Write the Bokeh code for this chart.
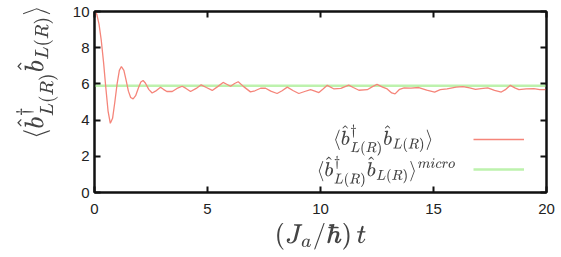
from bokeh.plotting import figure
from bokeh.models import (LinearAxis, Range1d, FixedTicker, Label, Legend, LegendItem,
                          TeX, CustomJSTickFormatter)
from bokeh.core.properties import value
from bokeh.embed import file_html
from bokeh.resources import INLINE

# --- data ---
t_vals = [0.0, 0.1, 0.2, 0.3, 0.4, 0.5, 0.6, 0.7, 0.8, 0.9, 1.0, 1.1, 1.19, 1.3, 1.4, 1.5,
          1.6, 1.71, 1.82, 1.95, 2.05, 2.15, 2.25, 2.4, 2.55, 2.7, 2.92, 3.05, 3.2, 3.44,
          3.65, 3.88, 4.05, 4.25, 4.5, 4.72, 4.95, 5.21, 5.45, 5.69, 5.85, 6.02, 6.2, 6.36,
          6.6, 6.9, 7.1, 7.35, 7.57, 7.8, 8.08, 8.3, 8.53, 8.8, 9.04, 9.3, 9.56, 9.75, 9.93,
          10.1, 10.3, 10.6, 10.9, 11.25, 11.45, 11.7, 12.07, 12.3, 12.5, 12.75, 12.95, 13.15,
          13.3, 13.5, 13.7, 14.0, 14.35, 14.7, 15.05, 15.3, 15.6, 16.0, 16.3, 16.6, 16.86,
          17.1, 17.4, 17.7, 18.0, 18.2, 18.4, 18.6, 18.78, 19.1, 19.44, 19.7, 19.9, 20.0]
n_vals = [10.0, 9.85, 9.3, 8.4, 7.2, 5.8, 4.5, 3.82, 4.1, 5.0, 6.0, 6.75, 6.96, 6.75, 6.2, 5.6,
          5.25, 5.17, 5.35, 5.8, 6.1, 6.19, 6.05, 5.7, 5.5, 5.6, 5.82, 5.7, 5.58, 5.58,
          5.75, 5.87, 5.75, 5.58, 5.75, 5.95, 5.8, 5.64, 5.85, 6.08, 5.98, 5.87, 6.02, 6.12,
          5.85, 5.56, 5.62, 5.76, 5.76, 5.6, 5.47, 5.62, 5.82, 5.62, 5.47, 5.58, 5.68, 5.6, 5.52,
          5.7, 5.92, 5.72, 5.75, 5.93, 5.8, 5.65, 5.68, 5.85, 5.97, 5.82, 5.72, 5.5,
          5.45, 5.7, 5.78, 5.77, 5.8, 5.65, 5.55, 5.68, 5.73, 5.82, 5.85, 5.78, 5.7,
          5.74, 5.78, 5.64, 5.55, 5.7, 5.92, 5.78, 5.68, 5.72, 5.74, 5.68, 5.68, 5.7]
micro_t = [0.0, 20.0]
micro_val = [5.9, 5.9]

x_ticks = [0, 5, 10, 15, 20]
y_ticks = [0, 2, 4, 6, 8, 10]

p = figure(width=561, height=257, output_backend="svg", toolbar_location=None,
           x_range=Range1d(0, 20), y_range=Range1d(0, 10),
           min_border_left=94, min_border_right=15, min_border_top=11, min_border_bottom=65)
p.background_fill_color = "white"
p.border_fill_color = "white"
p.grid.visible = False
p.outline_line_color = "#111111"
p.outline_line_width = 2

green = p.line(micro_t, micro_val, line_color="#bdf2ad", line_width=2.5)
red = p.line(t_vals, n_vals, line_color="#f5857a", line_width=1.3)

def style_axis(ax):
    ax.axis_line_color = "#111111"
    ax.axis_line_width = 2
    ax.major_tick_in = 6
    ax.major_tick_out = 0
    ax.major_tick_line_width = 2
    ax.major_tick_line_color = "#111111"
    ax.minor_tick_line_color = None
    ax.major_label_text_font = "Liberation Sans"
    ax.major_label_text_font_size = "15px"
    ax.major_label_text_color = "#222222"

p.xaxis.ticker = FixedTicker(ticks=x_ticks)
p.yaxis.ticker = FixedTicker(ticks=y_ticks)
style_axis(p.xaxis[0])
style_axis(p.yaxis[0])
p.xaxis.major_label_standoff = 11
p.yaxis.major_label_standoff = 5

p.xaxis.axis_label = TeX(r"(J_a/\hbar)\,t")
p.xaxis.axis_label_text_font_size = "22px"
p.xaxis.axis_label_standoff = 6

# y title, shifted up like the reference by a leading blank space
p.yaxis.axis_label = TeX(r"\hspace{2.2em}\langle \hat{b}^\dagger_{L(R)} \hat{b}_{L(R)} \rangle")
p.yaxis.axis_label_text_font_size = "22px"
p.yaxis.axis_label_standoff = 12

blank = CustomJSTickFormatter(code="return ''")
top = LinearAxis(ticker=FixedTicker(ticks=x_ticks), formatter=blank)
style_axis(top)
top.major_label_standoff = 0
right = LinearAxis(ticker=FixedTicker(ticks=y_ticks), formatter=blank)
style_axis(right)
right.major_label_standoff = 0
p.add_layout(top, "above")
p.add_layout(right, "right")

legend = Legend(items=[LegendItem(label=value(" "), renderers=[red]),
                       LegendItem(label=value(" "), renderers=[green])],
                location=(379, 8), glyph_width=51, glyph_height=30, spacing=0,
                padding=0, margin=0, label_width=1, label_standoff=0,
                background_fill_alpha=0, border_line_color=None)
p.add_layout(legend, "center")

p.add_layout(Label(x=15.0, y=2.93, text=TeX(r"\langle \hat{b}^\dagger_{L(R)} \hat{b}_{L(R)} \rangle"),
                   text_align="right", text_baseline="middle", text_font_size="16px"))
p.add_layout(Label(x=16.0, y=1.2, text=TeX(r"\langle \hat{b}^\dagger_{L(R)} \hat{b}_{L(R)} \rangle^{micro}"),
                   text_align="right", text_baseline="middle", text_font_size="16px"))

open("out.html", "w").write(file_html(p, INLINE))
